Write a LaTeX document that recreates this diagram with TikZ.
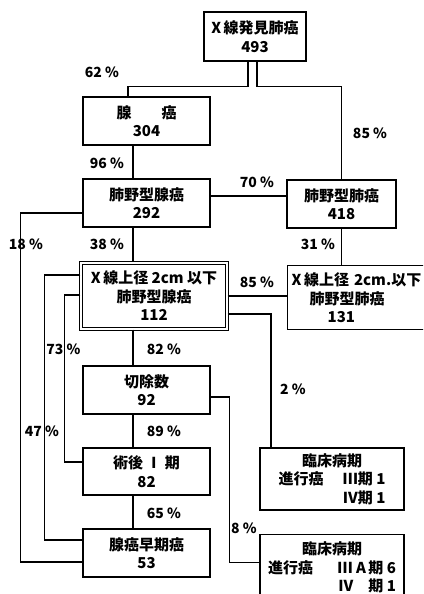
\documentclass[tikz,border=0pt]{standalone}
\usepackage{fontspec}
\newfontfamily\jpfont{Noto Sans CJK JP}
\usetikzlibrary{positioning}

\begin{document}
\begin{tikzpicture}[
  x=1pt, y=-1pt,
  font=\jpfont\bfseries\fontsize{15}{18.5}\selectfont,
  cbox/.style={draw, line width=1.4pt, minimum width=127pt, minimum height=48pt,
               align=center, inner sep=2pt},
  dbox/.style={draw, line width=1.1pt, double, double distance=2pt,
               minimum width=146pt, minimum height=66pt, align=center, inner sep=2pt},
  pct/.style={font=\jpfont\bfseries\fontsize{14}{16}\selectfont},
  link/.style={line width=1.4pt},
]
\useasboundingbox (0,0) rectangle (423,594);
\clip (0,0) rectangle (423,594);

%% ── Upper boxes ──────────────────────────────────────────────────────────
\node[cbox, minimum width=102pt, minimum height=49pt] (xray) at (255,36.5) {X\,線発見肺癌\\493};
\node[cbox] (adeno)  at (146.5,121) {腺　　癌\\304};
\node[cbox] (padeno) at (146.5,203) {肺野型腺癌\\292};
\node[cbox, minimum width=109pt] (plung) at (341.5,204) {肺野型肺癌\\418};

%% ── Small (2 cm) boxes ───────────────────────────────────────────────────
\node[dbox] (sadeno) at (154,296) {X\,線上径 2cm 以下\\肺野型腺癌\\112};
\node[cbox, anchor=north west, text width=160pt, inner xsep=4pt, minimum height=64pt,
      align=left] (slung) at (287,265)
  {X\,線上径 2cm.以下\\\hspace*{18pt}肺野型肺癌\\\hspace*{36pt}131};

%% ── Lower column ─────────────────────────────────────────────────────────
\node[cbox] (resect) at (146.5,390) {切除数\\92};
\node[cbox, minimum height=47pt] (postop) at (146.5,471.5) {術後 Ⅰ 期\\82};
\node[cbox] (early)  at (146.5,553) {腺癌早期癌\\53};

%% ── Clinical stage boxes ─────────────────────────────────────────────────
\node[cbox, minimum width=144pt, minimum height=62pt] (stageA) at (332,479)
  {臨床病期\\\makebox[107pt][l]{進行癌\hfill Ⅲ期 1}\\\makebox[107pt][r]{Ⅳ期 1}};
\node[cbox, anchor=north, minimum width=144pt, minimum height=66pt] (stageB) at (332,534)
  {臨床病期\\\makebox[128pt][l]{進行癌\hfill Ⅲ A\,期 6}\\\makebox[128pt][r]{Ⅳ　期 1}};

%% ── Connectors ───────────────────────────────────────────────────────────
\draw[link] ([xshift=-7pt]xray.south) -- ++(0,25) -| ([xshift=-18.5pt]adeno.north);
\draw[link] ([xshift=2pt]xray.south) -- ++(0,25) -| (plung.north);
\draw[link] ([xshift=-13.5pt]adeno.south) -- ([xshift=-13.5pt]padeno.north);
\draw[link] ([yshift=7pt]padeno.east) -- ([yshift=7pt]padeno.east -| plung.west);
\draw[link] ([xshift=-13.5pt]padeno.south) -- ([xshift=-13.5pt]padeno.south |- sadeno.north);
\draw[link] (plung.south) -- (plung.south |- slung.north);
\draw[link] (sadeno.east) -- (sadeno.east -| slung.west);
\draw[link] ([yshift=-18pt]sadeno.east) -| ([xshift=-61pt]stageA.north);
\draw[link] ([xshift=-21pt]sadeno.south) -- ([xshift=-21pt]sadeno.south |- resect.north);
\draw[link] ([xshift=-13.5pt]resect.south) -- ([xshift=-13.5pt]postop.north);
\draw[link] ([xshift=-13.5pt]postop.south) -- ([xshift=-13.5pt]early.north);
\draw[link] ([yshift=-7pt]resect.east) -- ++(19,0) |- ([yshift=5pt]stageB.west);
\draw[link] ([yshift=-10pt]padeno.west) -- ++(-62,0) |- ([yshift=-9pt]early.west);
\draw[link] ([yshift=21pt]sadeno.west) -- ++(-36,0) |- ([yshift=13pt]early.west);
\draw[link] ([yshift=1pt]sadeno.west) -- ++(-16,0) |- ([yshift=9.5pt]postop.west);

%% ── Percentages ──────────────────────────────────────────────────────────
\node[pct] (p62)  at (102,72)  {62 \%};
\node[pct] (p85a) at (370,133) {85 \%};
\node[pct] (p96)  at (107,163) {96 \%};
\node[pct] (p70)  at (257,182) {70 \%};
\node[pct] (p18)  at (26,244)  {18 \%};
\node[pct] (p38)  at (107,244) {38 \%};
\node[pct] (p31)  at (318,244) {31 \%};
\node[pct] (p85b) at (257,282) {85 \%};
\node[pct] (p73)  at (63.5,349) {73 \%};
\node[pct] (p82)  at (164,349) {82 \%};
\node[pct] (p2)   at (293,389) {2 \%};
\node[pct] (p47)  at (42,431)  {47 \%};
\node[pct] (p89)  at (164,431) {89 \%};
\node[pct] (p65)  at (164,513) {65 \%};
\node[pct] (p8)   at (244,528) {8 \%};

\end{tikzpicture}
\end{document}
